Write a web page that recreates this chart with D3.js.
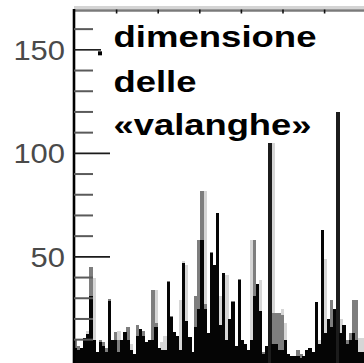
<!DOCTYPE html>
<html>
<head>
<meta charset="utf-8">
<script src="https://cdn.jsdelivr.net/npm/d3@7/dist/d3.min.js"></script>
<style>
  html, body { margin: 0; padding: 0; background: #fff; }
  svg { display: block; }
</style>
</head>
<body>
<svg id="chart" width="364" height="363"></svg>
<script>
// Avalanche sizes per time bin: black = front layer, gray / light = layers behind it
const blackSizes = [6, 5, 6, 11, 12.5, 31, 10, 4, 9, 7, 4, 28.5, 10, 10, 4, 10, 13.5, 10, 5, 3, 12, 15,
  12, 9, 10, 10, 16, 6, 5, 5, 38, 21, 13.5, 12, 5, 47, 19, 11.5, 4, 16, 25, 58, 25, 13, 52, 46, 71,
  17, 42, 10, 20, 28, 7, 39, 10, 8, 5, 10, 31, 37, 24, 3, 7, 105, 8, 8, 5, 5, 10, 3, 2, 2, 2, 1, 2,
  5, 6, 4, 28, 8, 63, 13, 20, 16, 25, 120, 13, 17, 8, 10, 13, 10, 4, 4];
const graySizes = [10, 7, 0, 0, 0, 45, 0, 0, 10, 9, 6, 29.5, 0, 13.5, 10, 0, 0, 16, 0, 0, 17, 0,
  14, 0, 0, 34, 18, 0, 0, 0, 38.5, 21.5, 0, 0, 0, 0, 0, 0, 0, 31, 58, 82, 27, 0, 52.5, 0, 0,
  0, 0, 0, 0, 28.5, 0, 39.5, 0, 0, 0, 0, 58, 0, 0, 4, 0, 0, 23, 23, 23, 22, 0, 0, 0, 0, 5, 3, 0,
  0, 0, 0, 0, 0, 0, 0, 0, 29, 0, 0, 0, 0, 10, 13, 29, 29, 0, 0];
const lightSizes = [0, 0, 0, 0, 14, 0, 40, 0, 0, 0, 0, 0, 0, 0, 14, 0, 0, 0, 8, 0, 0, 0,
  0, 0, 0, 0, 34, 0, 9, 12, 0, 0, 0, 0, 29, 48, 46, 0, 0, 0, 0, 0, 82, 0, 0, 0, 0,
  31, 0, 41, 0, 0, 0, 0, 0, 0, 0, 58, 0, 0, 39, 0, 0, 0, 105, 0, 0, 25, 18, 0, 0, 0, 0, 0, 0,
  0, 0, 0, 0, 10, 0, 49, 0, 0, 0, 0, 20, 0, 0, 0, 0, 0, 11, 11];

const sizeTicks = [10, 20, 30, 40, 50, 60, 70, 80, 90, 100, 110, 120, 130, 140, 150, 160];
const sizeLabels = [50, 100, 150];
const timeTicks = [100, 200, 300, 400, 500, 600];
const titleLines = ["dimensione", "delle", "«valanghe»"];

const svg = d3.select("#chart");
const W = 364, H = 363;
const axisX = 74;

const y = d3.scaleLinear().domain([-2, 169]).range([364.5, 10.5]);
const x = d3.scaleBand().domain(d3.range(blackSizes.length)).range([axisX, W]).padding(0);
const xTime = d3.scaleLinear().domain([0, 700]).range([75, 366.2]);

const plotBottom = y(-2);

// stacked layers of each bin, drawn back to front
const layers = [
  { values: lightSizes, color: "#d6d6d6" },
  { values: graySizes, color: "#7e7e7e" },
  { values: blackSizes, color: "#050505" }
];
layers.forEach(layer => {
  svg.append("g")
    .attr("shape-rendering", "crispEdges")
    .selectAll("rect")
    .data(layer.values.map((v, i) => ({ i, v })).filter(d => d.v > 0))
    .join("rect")
    .attr("x", d => x(d.i))
    .attr("width", x.bandwidth() + 0.3)
    .attr("y", d => y(d.v))
    .attr("height", d => plotBottom - y(d.v))
    .attr("fill", d => d.v > 90 && layer.color === "#050505" ? "#1c1c1c" : layer.color);
});

// top frame with small time ticks
const topY = y(169);
svg.append("line")
  .attr("x1", axisX).attr("x2", W).attr("y1", topY - 3).attr("y2", topY - 3)
  .attr("stroke", "#d4d4d4").attr("stroke-width", 3);
svg.append("line")
  .attr("x1", axisX).attr("x2", W).attr("y1", topY).attr("y2", topY)
  .attr("stroke", "#7a7a7a").attr("stroke-width", 2.4);
svg.append("g")
  .selectAll("line")
  .data(timeTicks)
  .join("line")
  .attr("x1", d => xTime(d)).attr("x2", d => xTime(d))
  .attr("y1", topY - 1).attr("y2", topY + 3)
  .attr("stroke", "#111").attr("stroke-width", 1.6);

// left axis
const yAxis = svg.append("g").attr("transform", `translate(${axisX},0)`);
yAxis.append("line")
  .attr("x1", 0).attr("x2", 0).attr("y1", topY - 1.5).attr("y2", H)
  .attr("stroke", "#000").attr("stroke-width", 2.6);
yAxis.selectAll("line.tick")
  .data(sizeTicks)
  .join("line")
  .attr("class", "tick")
  .attr("x1", 0)
  .attr("x2", d => sizeLabels.includes(d) ? (d === 150 ? 27 : 36) : 19)
  .attr("y1", d => y(d)).attr("y2", d => y(d))
  .attr("stroke", d => sizeLabels.includes(d) ? "#1a1a1a" : "#5a5a5a")
  .attr("stroke-width", d => sizeLabels.includes(d) ? 1.6 : 2);

// small mark next to the 150 tick
yAxis.append("rect")
  .attr("x", 24).attr("y", y(150) + 1.5).attr("width", 4).attr("height", 4)
  .attr("fill", "#000");

yAxis.selectAll("text")
  .data(sizeLabels)
  .join("text")
  .attr("x", -9)
  .attr("y", d => y(d))
  .attr("dy", "0.36em")
  .attr("text-anchor", "end")
  .attr("font-family", "'Liberation Sans', Arial, sans-serif")
  .attr("font-size", 28)
  .attr("fill", "#4a4a4a")
  .attr("textLength", d => String(d).length * 17.2)
  .attr("lengthAdjust", "spacingAndGlyphs")
  .text(d => d);

// title
const titleWidths = [203, 83, 198];
const titleBaselines = [46.5, 91.5, 134.5];
svg.append("g")
  .selectAll("text")
  .data(titleLines)
  .join("text")
  .attr("x", 113.5)
  .attr("y", (d, i) => titleBaselines[i])
  .attr("font-family", "'Liberation Sans', Arial, sans-serif")
  .attr("font-weight", "bold")
  .attr("font-size", 30)
  .attr("fill", "#000")
  .attr("textLength", (d, i) => titleWidths[i])
  .attr("lengthAdjust", "spacingAndGlyphs")
  .text(d => d);
</script>
</body>
</html>
